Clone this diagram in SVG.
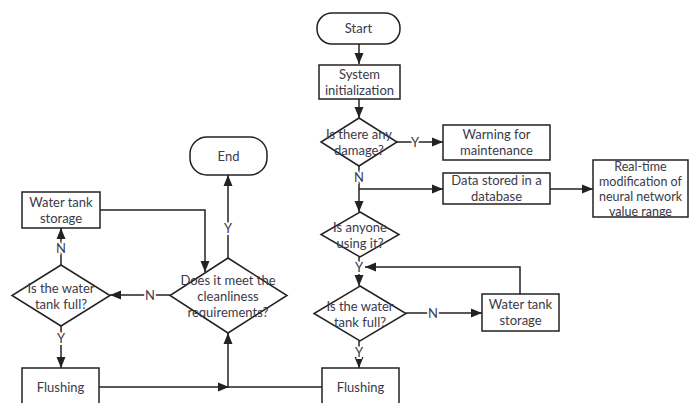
<svg xmlns="http://www.w3.org/2000/svg" width="689" height="403" viewBox="0 0 689 403">
<defs>
<marker id="arr" markerUnits="userSpaceOnUse" markerWidth="12" markerHeight="12" viewBox="0 0 12 12" refX="11" refY="6" orient="auto">
<path d="M0,1.5 L11,6 L0,10.5 Z" fill="#222"/>
</marker>
<style>
.box{fill:#fff;stroke:#222;stroke-width:1.5}
.t{font-family:Lato,"Open Sans",sans-serif;font-size:13px;fill:#3a3a4a;text-anchor:middle}
.s{font-size:12.5px}
.c{fill:none;stroke:#222;stroke-width:1.5}
.lb{font-family:Lato,"Open Sans",sans-serif;font-size:13px;fill:#3a3a4a;text-anchor:middle;stroke:#fff;stroke-width:4;paint-order:stroke}
</style>
</defs>
<rect width="689" height="403" fill="#fff"/>
<g id="connectors">
<path class="c" d="M359,44 V64" marker-end="url(#arr)"/>
<path class="c" d="M359,99 V118" marker-end="url(#arr)"/>
<path class="c" d="M397,142 H443" marker-end="url(#arr)"/>
<path class="c" d="M359,166 V212" marker-end="url(#arr)"/>
<path class="c" d="M359,189 H443" marker-end="url(#arr)"/>
<path class="c" d="M550,189 H593" marker-end="url(#arr)"/>
<path class="c" d="M359,257 V286" marker-end="url(#arr)"/>
<path class="c" d="M406,313 H482" marker-end="url(#arr)"/>
<path class="c" d="M520,294 V267 H365" marker-end="url(#arr)"/>
<path class="c" d="M359,341 V368" marker-end="url(#arr)"/>
<path class="c" d="M322,387 H228"/>
<path class="c" d="M99,387 H229" marker-end="url(#arr)"/>
<path class="c" d="M228,387 V333" marker-end="url(#arr)"/>
<path class="c" d="M228,258 V175" marker-end="url(#arr)"/>
<path class="c" d="M170,295 H110" marker-end="url(#arr)"/>
<path class="c" d="M61,265 V228" marker-end="url(#arr)"/>
<path class="c" d="M100,210 H205 V272" marker-end="url(#arr)"/>
<path class="c" d="M61,326 V368" marker-end="url(#arr)"/>
<text class="lb" x="415" y="147">Y</text>
<text class="lb" x="359" y="182">N</text>
<text class="lb" x="359" y="272">Y</text>
<text class="lb" x="433" y="318">N</text>
<text class="lb" x="359" y="357">Y</text>
<text class="lb" x="228" y="233">Y</text>
<text class="lb" x="150" y="300">N</text>
<text class="lb" x="61" y="253">N</text>
<text class="lb" x="61" y="343">Y</text>
</g>
<g id="start"><rect class="box" x="317" y="13" width="83" height="31" rx="15"/><text class="t" x="358.5" y="33">Start</text></g>
<g id="init"><rect class="box" x="319" y="65" width="81" height="34"/><text class="t" x="359.5" y="79">System</text><text class="t" x="359.5" y="95">initialization</text></g>
<g id="damage"><polygon class="box" points="359,118 397,142 359,166 321,142"/><text class="t" x="359" y="139">Is there any</text><text class="t" x="359" y="155">damage?</text></g>
<g id="warning"><rect class="box" x="443" y="125" width="107" height="35"/><text class="t" x="496.5" y="139">Warning for</text><text class="t" x="496.5" y="155">maintenance</text></g>
<g id="database"><rect class="box" x="443" y="173" width="107" height="31"/><text class="t" x="496.5" y="185">Data stored in a</text><text class="t" x="496.5" y="201">database</text></g>
<g id="realtime"><rect class="box" x="593" y="160" width="95" height="57"/><text class="t s" x="640.5" y="170.5">Real-time</text><text class="t s" x="640.5" y="185.5">modification of</text><text class="t s" x="640.5" y="200.5">neural network</text><text class="t s" x="640.5" y="215.5">value range</text></g>
<g id="anyone"><polygon class="box" points="360,212 399,234.5 360,257 321,234.5"/><text class="t" x="360" y="232">Is anyone</text><text class="t" x="360" y="248">using it?</text></g>
<g id="tankfull-right"><polygon class="box" points="360,286 406,313.5 360,341 314,313.5"/><text class="t" x="360" y="311">Is the water</text><text class="t" x="360" y="327">tank full?</text></g>
<g id="storage-right"><rect class="box" x="482" y="294" width="77" height="37"/><text class="t" x="520.5" y="309">Water tank</text><text class="t" x="520.5" y="325">storage</text></g>
<g id="flushing-right"><rect class="box" x="322" y="368" width="77" height="45"/><text class="t" x="360.5" y="392">Flushing</text></g>
<g id="end"><rect class="box" x="190" y="137" width="77" height="38" rx="17"/><text class="t" x="228.5" y="161">End</text></g>
<g id="storage-left"><rect class="box" x="22" y="192" width="78" height="36"/><text class="t" x="61" y="207">Water tank</text><text class="t" x="61" y="223">storage</text></g>
<g id="clean"><polygon class="box" points="228,258 287,295.5 228,333 170,295.5"/><text class="t" x="228" y="285">Does it meet the</text><text class="t" x="228" y="301">cleanliness</text><text class="t" x="228" y="317">requirements?</text></g>
<g id="tankfull-left"><polygon class="box" points="61,265 110,295.5 61,326 12,295.5"/><text class="t" x="61" y="293">Is the water</text><text class="t" x="61" y="309">tank full?</text></g>
<g id="flushing-left"><rect class="box" x="22" y="368" width="77" height="45"/><text class="t" x="60.5" y="392">Flushing</text></g>
</svg>
